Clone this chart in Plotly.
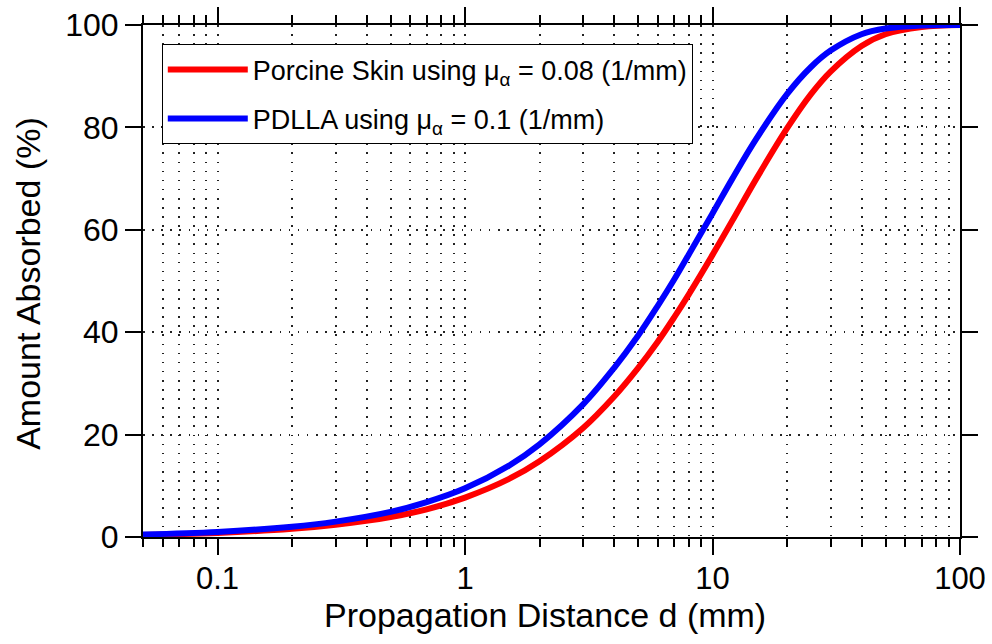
import plotly.graph_objects as go

distance_mm = [0.05, 0.1, 0.2, 0.3, 0.5, 0.7, 1, 1.5, 2, 3, 4, 5, 6, 7, 8, 10,
               12, 15, 20, 25, 30, 40, 50, 70, 100]
porcine_skin = [0.4, 0.8, 1.6, 2.4, 3.9, 5.4, 7.7, 11.3, 14.8, 21.3, 27.4, 33.0,
                38.1, 42.9, 47.3, 55.1, 61.7, 69.9, 79.8, 86.5, 90.9, 95.9, 98.2,
                99.6, 100.0]
pdlla = [0.5, 1.0, 2.0, 3.0, 4.9, 6.8, 9.5, 13.9, 18.1, 25.9, 33.0, 39.3, 45.1,
         50.3, 55.1, 63.2, 69.9, 77.7, 86.5, 91.8, 95.0, 98.2, 99.3, 99.9, 100.0]

x_tickvals = [0.1, 1, 10, 100]
x_ticktext = ["0.1", "1", "10", "100"]
y_tickvals = [0, 20, 40, 60, 80, 100]
x_title = "Propagation Distance d (mm)"
y_title = "Amount Absorbed (%)"

FONT = "Liberation Sans, Arial, Helvetica, sans-serif"
grid_dash = "1.6px,7.5px"

fig = go.Figure()
fig.add_trace(go.Scatter(
    x=distance_mm, y=porcine_skin, mode="lines",
    line=dict(color="#ff0000", width=6, shape="spline"),
    legendgroup="a",
    name="Porcine Skin using μ<sub>α</sub> = 0.08 (1/mm)"))
fig.add_trace(go.Scatter(
    x=distance_mm, y=pdlla, mode="lines",
    line=dict(color="#0000ff", width=6, shape="spline"),
    legendgroup="b",
    name="PDLLA using μ<sub>α</sub> = 0.1 (1/mm)"))

fig.update_layout(
    width=992, height=644,
    margin=dict(l=143, r=32, t=25, b=107, autoexpand=False),
    paper_bgcolor="white", plot_bgcolor="white",
    font=dict(family=FONT, color="black", size=32),
    showlegend=True,
    legend=dict(x=0.023, y=0.962, xanchor="left", yanchor="top",
                bgcolor="white", bordercolor="black", borderwidth=1,
                font=dict(size=27, family=FONT), itemwidth=80,
                tracegroupgap=11),
    xaxis=dict(
        type="log", range=[-1.30103, 2], automargin=False,
        tickvals=x_tickvals, ticktext=x_ticktext,
        ticks="outside", ticklen=16, tickwidth=2, tickcolor="black",
        ticklabelstandoff=-3,
        showline=True, linecolor="black", linewidth=2, mirror="ticks",
        showgrid=True, gridcolor="#222", gridwidth=1.5, griddash=grid_dash,
        zeroline=False,
        tickfont=dict(size=31),
        minor=dict(dtick="D1", ticks="outside", ticklen=8, tickwidth=2,
                   tickcolor="black", showgrid=True, gridcolor="#222",
                   gridwidth=1.5, griddash=grid_dash),
    ),
    yaxis=dict(
        range=[0, 100], tickvals=y_tickvals, automargin=False,
        ticks="outside", ticklen=16, tickwidth=2, tickcolor="black",
        showline=True, linecolor="black", linewidth=2, mirror="ticks",
        showgrid=True, gridcolor="#222", gridwidth=1.5, griddash=grid_dash,
        zeroline=False,
        tickfont=dict(size=32),
    ),
    annotations=[
        dict(text=x_title, xref="paper", yref="paper", x=0.492, y=-0.153,
             xanchor="center", yanchor="middle", showarrow=False,
             font=dict(size=34, family=FONT, color="black")),
        dict(text=y_title, xref="paper", yref="paper", x=-0.141, y=0.496,
             xanchor="center", yanchor="middle", showarrow=False,
             textangle=-90,
             font=dict(size=34, family=FONT, color="black")),
    ],
)

fig.write_html("out.html")
